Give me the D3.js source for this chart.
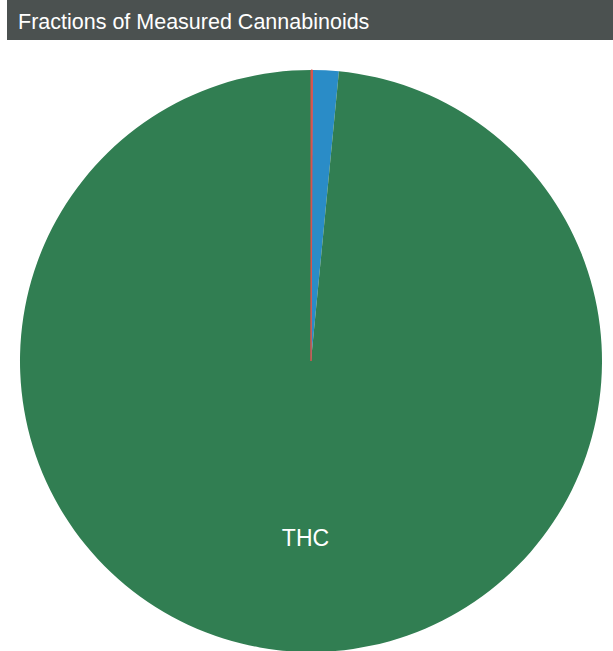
<!DOCTYPE html>
<html>
<head>
<meta charset="utf-8">
<script src="https://cdn.jsdelivr.net/npm/d3@7"></script>
<style>
  body { margin: 0; background: #fff; font-family: "Liberation Sans", Helvetica, Arial, sans-serif; }
</style>
</head>
<body>
<script>
const width = 613
const height = 651

// cannabinoid fractions (%), clockwise from 12 o'clock
const names = ['CBD', 'CBG', 'THC']
const values = [0.08, 1.45, 98.47]
const colors = ['#d9534f', '#2a8cc7', '#317e52']

const svg = d3.select('body').append('svg')
  .attr('width', width)
  .attr('height', height)

// title bar
svg.append('rect')
  .attr('x', 7).attr('y', 0)
  .attr('width', width - 7).attr('height', 40)
  .attr('fill', '#4b5150')
svg.append('text')
  .attr('x', 18).attr('y', 29)
  .attr('fill', '#fff')
  .attr('font-size', 21.5)
  .text('Fractions of Measured Cannabinoids')

const data = names.map((n, i) => ({name: n, value: values[i], color: colors[i]}))

const radius = 291
const pie = d3.pie().sort(null).value(d => d.value)
const arc = d3.arc().innerRadius(0).outerRadius(radius)
const labelArc = d3.arc().innerRadius(radius * 0.61).outerRadius(radius * 0.61)

const g = svg.append('g')
  .attr('transform', `translate(311,361)`)

const arcs = pie(data)

g.selectAll('path')
  .data(arcs)
  .enter().append('path')
    .attr('d', arc)
    .attr('fill', d => d.data.color)

// draw the tiny slices last with an outline so they stay visible
g.selectAll('path.thin')
  .data(arcs.filter(d => d.endAngle - d.startAngle < 0.01))
  .enter().append('path')
    .attr('class', 'thin')
    .attr('d', arc)
    .attr('fill', d => d.data.color)
    .attr('stroke', d => d.data.color)
    .attr('stroke-width', 1)

g.selectAll('text')
  .data(arcs.filter(d => d.endAngle - d.startAngle > 0.3))
  .enter().append('text')
    .attr('transform', d => `translate(${labelArc.centroid(d)})`)
    .attr('text-anchor', 'middle')
    .attr('dy', '0.35em')
    .attr('dx', 3)
    .attr('fill', '#fff')
    .attr('font-size', 23)
    .text(d => d.data.name)
</script>
</body>
</html>
